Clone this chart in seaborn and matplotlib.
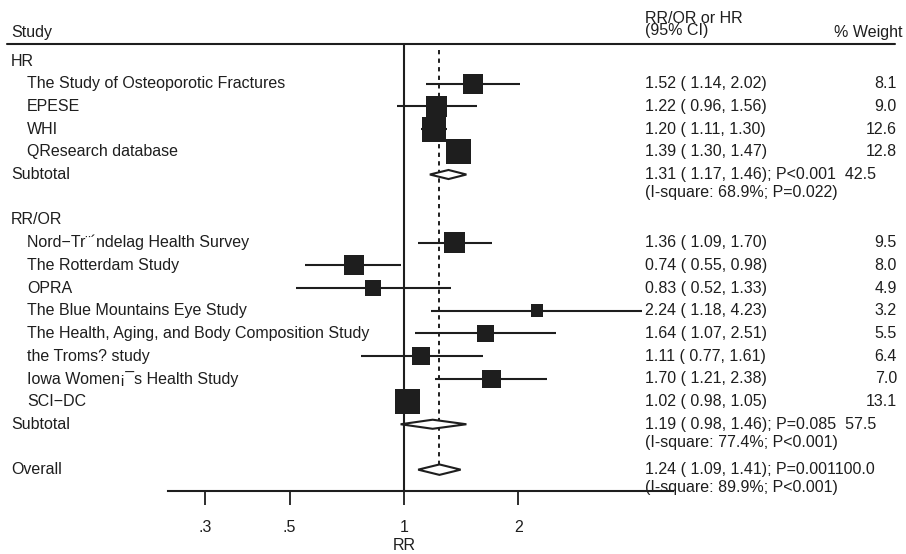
import numpy as np
import pandas as pd
import matplotlib
matplotlib.use("Agg")
import matplotlib.pyplot as plt
import matplotlib.transforms as mtransforms
import seaborn as sns

# study level estimates
groups = ["HR", "RR/OR"]
study_group = ["HR"] * 4 + ["RR/OR"] * 8
studies = ["The Study of Osteoporotic Fractures", "EPESE", "WHI", "QResearch database",
           "Nord\u2212Tr\u00a8\u00b4ndelag Health Survey", "The Rotterdam Study", "OPRA",
           "The Blue Mountains Eye Study", "The Health, Aging, and Body Composition Study",
           "the Troms? study", "Iowa Women\u00a1\u00afs Health Study", "SCI\u2212DC"]
rr = [1.52, 1.22, 1.20, 1.39, 1.36, 0.74, 0.83, 2.24, 1.64, 1.11, 1.70, 1.02]
ci_lo = [1.14, 0.96, 1.11, 1.30, 1.09, 0.55, 0.52, 1.18, 1.07, 0.77, 1.21, 0.98]
ci_hi = [2.02, 1.56, 1.30, 1.47, 1.70, 0.98, 1.33, 4.23, 2.51, 1.61, 2.38, 1.05]
weight = [8.1, 9.0, 12.6, 12.8, 9.5, 8.0, 4.9, 3.2, 5.5, 6.4, 7.0, 13.1]

# pooled estimates: HR subtotal, RR/OR subtotal, overall
pooled_rr = [1.31, 1.19, 1.24]
pooled_lo = [1.17, 0.98, 1.09]
pooled_hi = [1.46, 1.46, 1.41]
pooled_p = ["P<0.001", "P=0.085", "P=0.001"]
pooled_w = [42.5, 57.5, 100.0]
pooled_i2 = [68.9, 77.4, 89.9]
pooled_i2p = ["P=0.022", "P<0.001", "P<0.001"]

xticks = [0.3, 0.5, 1, 2]
xtick_labels = [".3", ".5", "1", "2"]
axis_range = (0.24, 5.1)

sns.set_style("white")
plt.rcParams["font.family"] = ["Liberation Sans", "DejaVu Sans"]
ink = "#1e1e1e"
fs = 11.5

# row layout
study_row = []
header_row = {}
sub_row = []
r = 0
for g in groups:
    header_row[g] = r
    r += 1
    for sg in study_group:
        if sg == g:
            study_row.append(r)
            r += 1
    sub_row.append(r)
    r += 2
sub_row.append(r)  # overall

df = pd.DataFrame({"study": studies, "rr": rr, "lo": ci_lo, "hi": ci_hi,
                   "weight": weight, "row": study_row})

fig = plt.figure(figsize=(9.06, 5.54), dpi=100)
ax = fig.add_axes([0, 63 / 554, 1, 491 / 554])
ax.set_xscale("log")
ax.set_xlim(0.0865, 20.95)
ax.set_ylim(18.94, -2.687)

tr = mtransforms.blended_transform_factory(ax.transAxes, ax.transData)
trx = mtransforms.blended_transform_factory(ax.transData, ax.transAxes)

# reference lines
ax.plot([1, 1], [-0.75, 18.94], color=ink, lw=1.5, zorder=1, clip_on=False)
ax.plot([pooled_rr[2]] * 2, [-0.5, sub_row[2] - 0.22], color=ink, lw=1.4,
        ls=(0, (2.2, 2.2)), zorder=1)

# confidence intervals and weighted squares
ax.hlines(df["row"], df["lo"], df["hi"], color=ink, lw=1.5, zorder=2)
wmin, wmax = min(weight), max(weight)
sns.scatterplot(data=df, x="rr", y="row", size="weight", sizes=(25.5 * wmin, 25.5 * wmax),
                size_norm=(wmin, wmax), marker="s", color=ink, edgecolor="none",
                legend=False, ax=ax, zorder=3)

# pooled diamonds
for i in range(3):
    y = sub_row[i]
    h = 0.2 if i < 2 else 0.23
    ax.fill([pooled_lo[i], pooled_rr[i], pooled_hi[i], pooled_rr[i]],
            [y, y - h, y, y + h], facecolor="white", edgecolor=ink, lw=1.5, zorder=4)

# header
ax.plot([0.0077, 0.988], [-0.75, -0.75], transform=tr, color=ink, lw=1.5, clip_on=False)
ax.text(0.012, -1.06, "Study", transform=tr, fontsize=fs, color=ink, va="baseline")
ax.text(0.712, -1.15, "RR/OR or HR\n(95% CI)", transform=tr, fontsize=fs, color=ink,
        va="baseline", linespacing=0.72)
ax.text(0.9956, -1.06, "% Weight", transform=tr, fontsize=fs, color=ink, va="baseline", ha="right")

# text columns
for g in groups:
    ax.text(0.012, header_row[g], g, transform=tr, fontsize=fs, color=ink, va="center")
for _, s in df.iterrows():
    ax.text(0.0298, s["row"], s["study"], transform=tr, fontsize=fs, color=ink, va="center")
    ax.text(0.712, s["row"], f"{s['rr']:.2f} ({s['lo']:5.2f}, {s['hi']:.2f})",
            transform=tr, fontsize=fs, color=ink, va="center")
    ax.text(0.990, s["row"], f"{s['weight']:.1f}", transform=tr, fontsize=fs,
            color=ink, va="center", ha="right")
for i, name in enumerate(["Subtotal", "Subtotal", "Overall"]):
    y = sub_row[i]
    sep = "  " if pooled_w[i] < 100 else ""
    ax.text(0.012, y, name, transform=tr, fontsize=fs, color=ink, va="center")
    ax.text(0.712, y, f"{pooled_rr[i]:.2f} ({pooled_lo[i]:5.2f}, {pooled_hi[i]:.2f}); "
            f"{pooled_p[i]}{sep}{pooled_w[i]:.1f}", transform=tr, fontsize=fs, color=ink,
            va="center")
    ax.text(0.712, y + 0.8, f"(I-square: {pooled_i2[i]:.1f}%; {pooled_i2p[i]})",
            transform=tr, fontsize=fs, color=ink, va="center")

# x axis
for side in ["top", "left", "right"]:
    ax.spines[side].set_visible(False)
ax.spines["bottom"].set_bounds(*axis_range)
ax.spines["bottom"].set_linewidth(1.5)
ax.spines["bottom"].set_color(ink)
ax.set_xticks(xticks)
ax.set_xticklabels(xtick_labels)
ax.minorticks_off()
ax.tick_params(axis="x", bottom=True, direction="out", length=10, width=1.3, color=ink,
               labelsize=fs, labelcolor=ink, pad=11)
ax.set_yticks([])
ax.set_xlabel("")
ax.set_ylabel("")
ax.text(1, -0.11, "RR", transform=trx, fontsize=fs, color=ink, ha="center", va="center")

fig.savefig("out.png", dpi=100)
